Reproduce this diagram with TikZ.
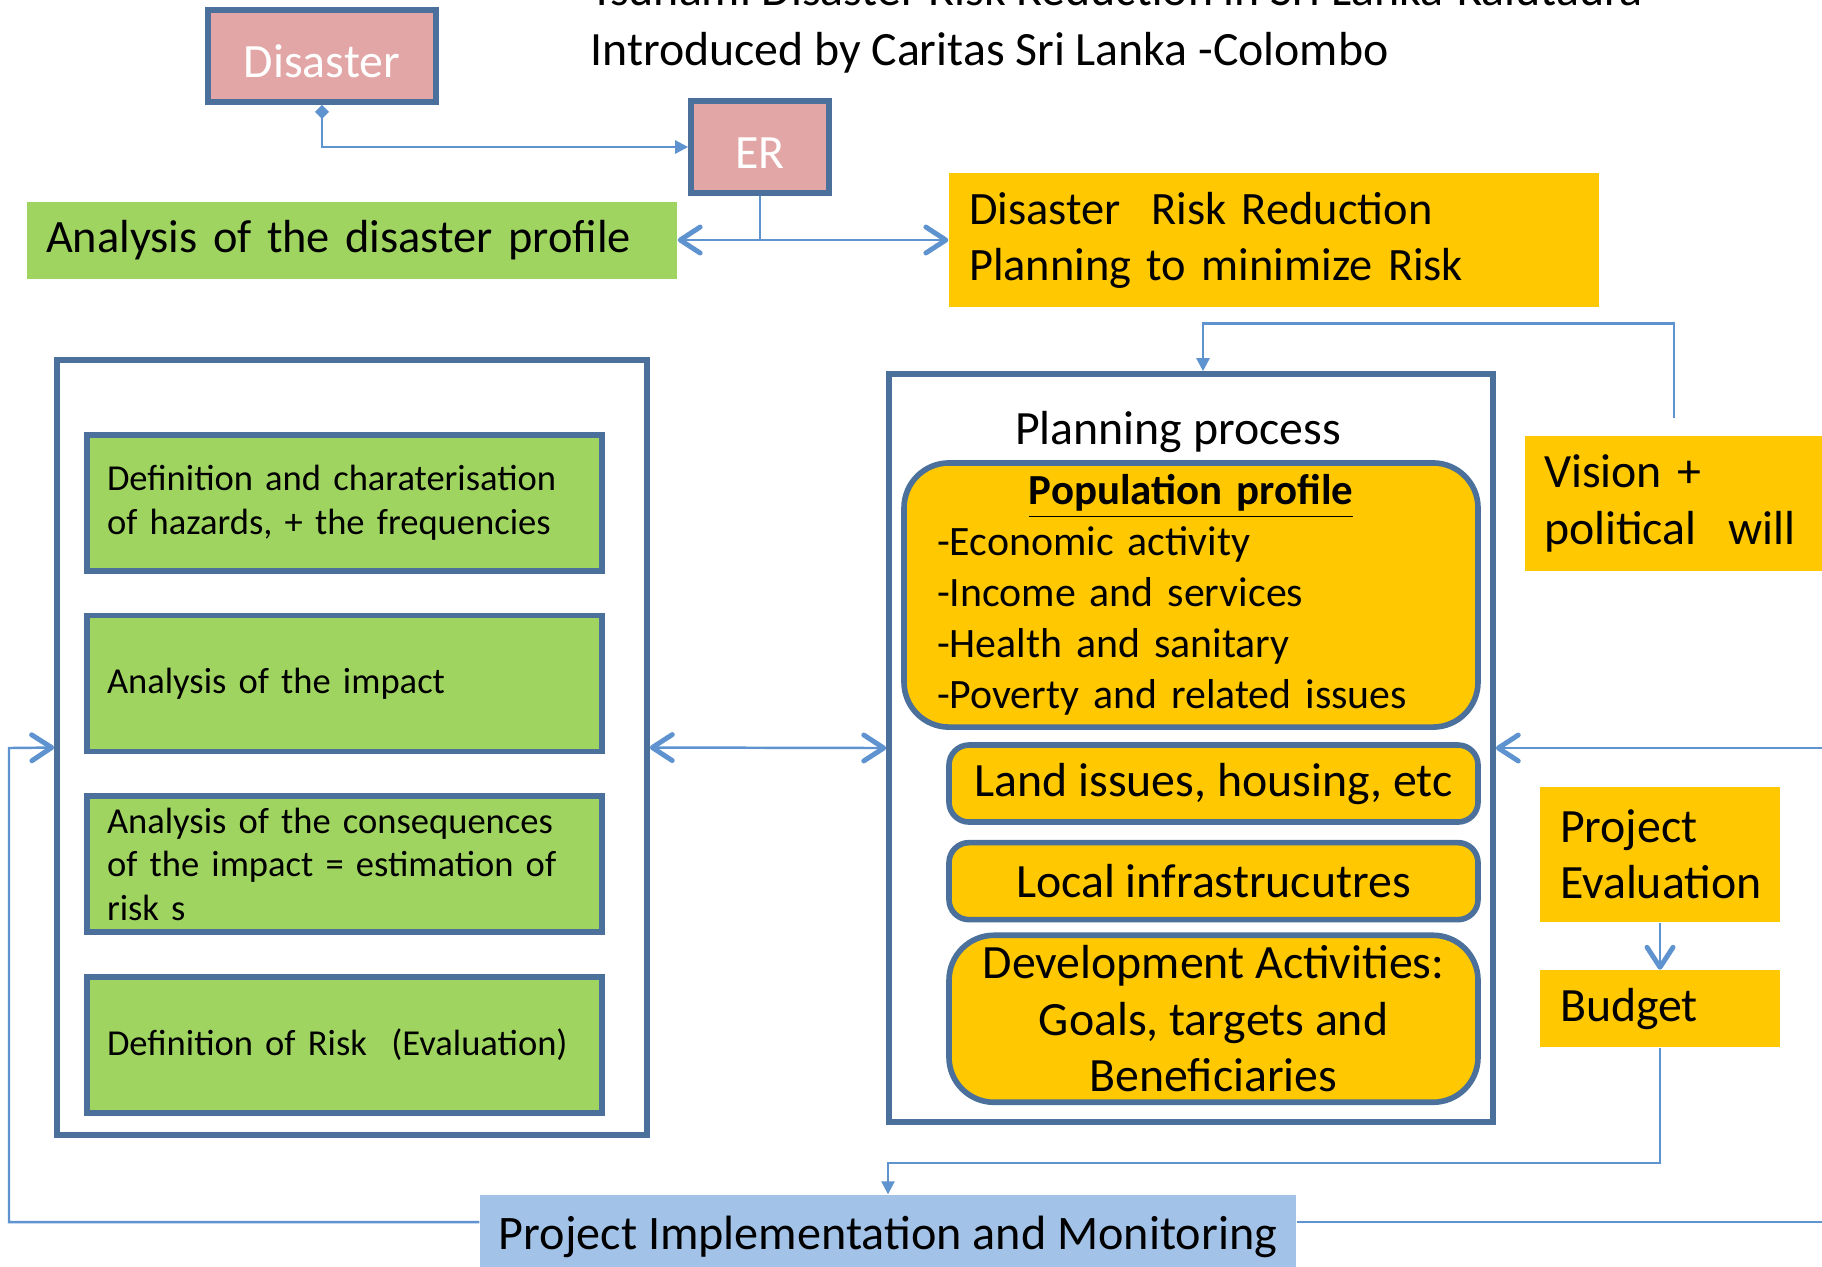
\documentclass[tikz,border=0pt]{standalone}
\usepackage{fontspec}
\setmainfont{Carlito}
\usetikzlibrary{arrows.meta, positioning}

\definecolor{boxblue}{RGB}{74,112,155}
\definecolor{linkblue}{RGB}{94,147,207}
\definecolor{drrpink}{RGB}{226,166,166}
\definecolor{drrgreen}{RGB}{160,212,96}
\definecolor{drryellow}{RGB}{255,200,0}
\definecolor{drrsky}{RGB}{162,194,232}

\begin{document}
\begin{tikzpicture}[
    big/.style={font=\fontsize{13.6}{16}\selectfont},
    mid/.style={font=\fontsize{13.2}{16}\selectfont},
    small/.style={font=\fontsize{10.4}{12.4}\selectfont},
    pinkbox/.style={rectangle, draw=boxblue, line width=1.6pt, fill=drrpink, text=white, minimum width=2.28cm, minimum height=0.92cm, text height=0.42cm, text depth=0cm, big},
    flatbox/.style={rectangle, inner xsep=0.2cm, align=left, big},
    greenbox/.style={rectangle, draw=boxblue, line width=1.6pt, fill=drrgreen, text width=4.75cm, inner xsep=0.2cm, inner ysep=0.05cm, minimum height=1.36cm, align=left, small},
    frame/.style={rectangle, draw=boxblue, line width=1.6pt, fill=white},
    roundbox/.style={rectangle, rounded corners=0.45cm, draw=boxblue, line width=1.6pt, fill=drryellow, big},
    link/.style={linkblue, line width=0.7pt},
    tri/.style={link, -{Triangle[length=1.3mm, width=1.3mm]}},
    dtri/.style={link, {Diamond[length=1.4mm, width=1.4mm]}-{Triangle[length=1.3mm, width=1.3mm]}},
    barb/.style={link, -{Straight Barb[length=2mm, width=2.6mm, line width=1.4pt, round]}},
    dbarb/.style={link, {Straight Barb[length=2mm, width=2.6mm, line width=1.4pt, round]}-{Straight Barb[length=2mm, width=2.6mm, line width=1.4pt, round]}}
]
    \useasboundingbox (0,0) rectangle (18.22,-12.66);
    \clip (0,0) rectangle (18.22,-12.66);

    \node (title) [big, anchor=base west] at (5.78,-0.05) {Tsunami Disaster Risk Reduction in Sri Lanka-Kalutaura};
    \node (intro) [big, anchor=base west] at (5.78,-0.65) {Introduced by Caritas Sri Lanka -Colombo};

    \node (disaster) [pinkbox] at (3.22,-0.56) {Disaster};
    \node (er) [pinkbox, minimum width=1.38cm] at (7.60,-1.47) {ER};
    \node (profile) [flatbox, mid, fill=drrgreen, text width=6.12cm, inner xsep=0.19cm, minimum height=0.77cm] at (3.52,-2.40) {Analysis of the disaster profile};
    \node (drr) [flatbox, mid, fill=drryellow, text width=6.10cm, minimum height=1.34cm] at (12.74,-2.40) {Disaster~~Risk Reduction\\Planning to minimize Risk};

    \node (lbox) [frame, minimum width=5.90cm, minimum height=7.75cm] at (3.52,-7.475) {};
    \node (g1) [greenbox] at (3.445,-5.03) {Definition and charaterisation\\of hazards, + the frequencies};
    \node (g2) [greenbox, below=0.39cm of g1] {Analysis of the impact};
    \node (g3) [greenbox, below=0.39cm of g2] {Analysis of the consequences\\of the impact = estimation of\\risk s};
    \node (g4) [greenbox, below=0.39cm of g3] {Definition of Risk~~(Evaluation)};

    \node (plan) [frame, minimum width=6.04cm, minimum height=7.48cm] at (11.91,-7.48) {};
    \node (plantitle) [big] at (11.78,-4.32) {Planning process};
    \node (pop) [roundbox, text width=5.08cm, inner xsep=0.33cm, minimum height=2.62cm, align=left, font=\fontsize{11.9}{14.5}\selectfont] at (11.91,-5.95) {\makebox[\linewidth]{\textbf{\underline{\fontsize{12.2}{14.5}\selectfont Population profile}}}\\-Economic activity\\-Income and services\\-Health and sanitary\\-Poverty and related issues};
    \node (land) [roundbox, rounded corners=0.2cm, minimum width=5.29cm, minimum height=0.77cm] at (12.135,-7.835) {Land issues, housing, etc};
    \node (infra) [roundbox, rounded corners=0.2cm, minimum width=5.29cm, minimum height=0.77cm, below=0.15cm of land] {Local infrastrucutres};
    \node (dev) [roundbox, minimum width=5.29cm, minimum height=1.67cm, inner ysep=-1mm, align=center, below=0.1cm of infra] {Development Activities:\\Goals, targets and\\Beneficiaries};

    \node (vision) [flatbox, fill=drryellow, text width=2.60cm, inner xsep=0.19cm, minimum height=1.35cm] at (16.74,-5.035) {Vision +\\political~~will};
    \node (eval) [flatbox, fill=drryellow, text width=2.00cm, minimum height=1.35cm] at (16.60,-8.545) {Project\\Evaluation};
    \node (budget) [flatbox, fill=drryellow, text width=2.00cm, minimum height=0.77cm, below=0.47cm of eval] {Budget};

    \node (impl) [big, font=\fontsize{13.7}{16}\selectfont, fill=drrsky, minimum width=8.16cm, minimum height=0.84cm] at (8.88,-12.37) {Project Implementation and Monitoring};

    \coordinate (edgeL) at (0.09,-7.48);
    \coordinate (edgeR) at (18.40,-7.48);

    \draw [dtri] (disaster.south) |- (er.west);
    \draw [link] (er.south) -- (er.south |- drr.west);
    \draw [dbarb] (profile.east) -- (drr.west);
    \draw [tri] ([yshift=1.7mm]vision.north) -- ++(0,0.95) -| ([xshift=1.2mm]plan.north);
    \draw [dbarb] (lbox.east) -- (plan.west);
    \draw [barb] ([yshift=1.5mm]impl.west) -| (edgeL) -- (lbox.west);
    \draw [barb] ([yshift=1.5mm]impl.east) -| (edgeR) -- (plan.east);
    \draw [barb] (eval.south) -- (budget.north);
    \draw [tri] (budget.south) -- ++(0,-1.15) -| (impl.north);
\end{tikzpicture}
\end{document}
